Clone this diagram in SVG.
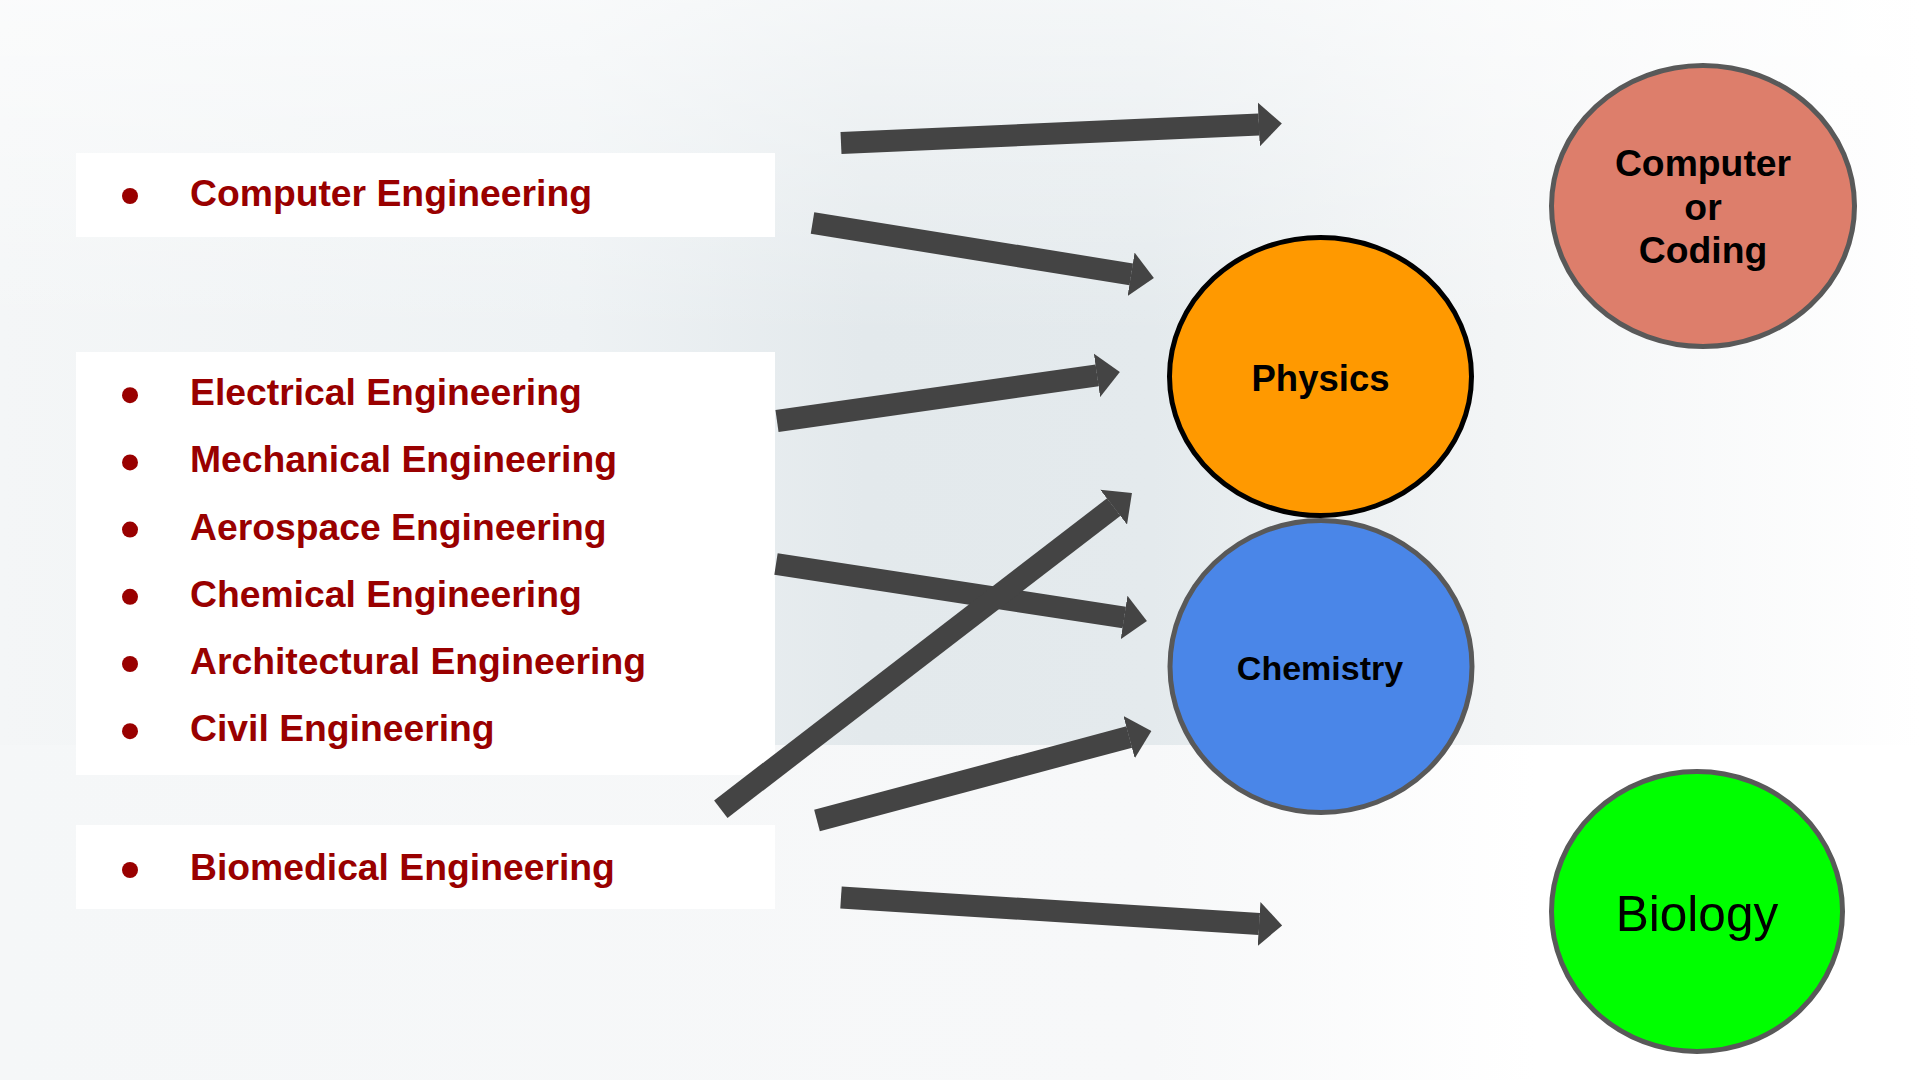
<svg xmlns="http://www.w3.org/2000/svg" width="1920" height="1080" viewBox="0 0 1920 1080">
  <style>
    .box { fill: #ffffff; }
    .item { font-family: "Liberation Sans", Arial, sans-serif; font-weight: bold; font-size: 37.3px; fill: #990000; }
    .bullet { fill: #990000; }
    .lbl { font-family: "Liberation Sans", Arial, sans-serif; font-weight: bold; fill: #000000; text-anchor: middle; }
    .conn { stroke: #444444; stroke-width: 22; stroke-linecap: butt; fill: none; marker-end: url(#head); }
    .node { stroke-width: 5; }
  </style>
  <defs>
    <marker id="head" markerUnits="strokeWidth" viewBox="0 0 1.05 2" markerWidth="1.05" markerHeight="2" refX="0.01" refY="1" orient="auto">
      <path d="M0,0 L1.05,1 L0,2 Z" fill="#444444"/>
    </marker>
    <linearGradient id="bgH" x1="0" y1="0" x2="1" y2="0">
      <stop offset="0" stop-color="#f4f6f7"/>
      <stop offset="0.3" stop-color="#eef2f4"/>
      <stop offset="0.45" stop-color="#e3e9ec"/>
      <stop offset="0.6" stop-color="#e4eaed"/>
      <stop offset="0.78" stop-color="#f3f5f6"/>
      <stop offset="1" stop-color="#ffffff"/>
    </linearGradient>
    <linearGradient id="bgV" x1="0" y1="0" x2="0" y2="1">
      <stop offset="0" stop-color="#ffffff" stop-opacity="0.6"/>
      <stop offset="0.45" stop-color="#ffffff" stop-opacity="0"/>
    </linearGradient>
    <linearGradient id="bgB" x1="0" y1="0" x2="1" y2="0">
      <stop offset="0" stop-color="#f5f7f8"/>
      <stop offset="0.6" stop-color="#f7f8f9"/>
      <stop offset="0.8" stop-color="#ffffff"/>
    </linearGradient>
  </defs>

  <!-- background -->
  <rect x="0" y="0" width="1920" height="1080" fill="#ffffff"/>
  <rect x="0" y="0" width="1920" height="745" fill="url(#bgH)"/>
  <rect x="0" y="0" width="1920" height="745" fill="url(#bgV)"/>
  <rect x="0" y="745" width="1920" height="335" fill="url(#bgB)"/>

  <!-- list boxes -->
  <g id="list-computer">
    <rect class="box" x="76" y="153" width="699" height="84"/>
    <circle class="bullet" cx="130" cy="196" r="8"/>
    <text class="item" x="190" y="206">Computer Engineering</text>
  </g>
  <g id="list-main">
    <rect class="box" x="76" y="352" width="699" height="423"/>
    <circle class="bullet" cx="130" cy="395.2" r="8"/>
    <text class="item" x="190" y="405.2">Electrical Engineering</text>
    <circle class="bullet" cx="130" cy="462.4" r="8"/>
    <text class="item" x="190" y="472.4">Mechanical Engineering</text>
    <circle class="bullet" cx="130" cy="529.6" r="8"/>
    <text class="item" x="190" y="539.6">Aerospace Engineering</text>
    <circle class="bullet" cx="130" cy="596.8" r="8"/>
    <text class="item" x="190" y="606.8">Chemical Engineering</text>
    <circle class="bullet" cx="130" cy="664" r="8"/>
    <text class="item" x="190" y="674">Architectural Engineering</text>
    <circle class="bullet" cx="130" cy="731.2" r="8"/>
    <text class="item" x="190" y="741.2">Civil Engineering</text>
  </g>
  <g id="list-biomedical">
    <rect class="box" x="76" y="825" width="699" height="84"/>
    <circle class="bullet" cx="130" cy="870" r="8"/>
    <text class="item" x="190" y="880">Biomedical Engineering</text>
  </g>

  <!-- connectors -->
  <g id="connectors">
    <line class="conn" x1="841" y1="143" x2="1259" y2="124.5"/>
    <line class="conn" x1="812.5" y1="223" x2="1131.3" y2="274.3"/>
    <line class="conn" x1="777" y1="421" x2="1097.2" y2="375.3"/>
    <line class="conn" x1="776" y1="564" x2="1124.3" y2="617.5"/>
    <line class="conn" x1="720.8" y1="809.2" x2="1113.8" y2="507"/>
    <line class="conn" x1="817" y1="820.5" x2="1129.3" y2="737"/>
    <line class="conn" x1="841" y1="897.5" x2="1259.3" y2="924"/>
  </g>

  <!-- nodes -->
  <g id="node-physics">
    <ellipse class="node" cx="1320.5" cy="376.5" rx="151" ry="139" fill="#ff9900" stroke="#000000"/>
    <text class="lbl" x="1320.5" y="391" font-size="36.5">Physics</text>
  </g>
  <g id="node-chemistry">
    <ellipse class="node" cx="1321" cy="666.5" rx="151" ry="146" fill="#4a86e8" stroke="#595959"/>
    <text class="lbl" x="1320" y="679.5" font-size="34">Chemistry</text>
  </g>
  <g id="node-computer">
    <ellipse class="node" cx="1703" cy="206" rx="151.5" ry="140.5" fill="#dd7e6b" stroke="#595959"/>
    <text class="lbl" x="1703" y="176" font-size="37.3">Computer</text>
    <text class="lbl" x="1703" y="219.5" font-size="37.3">or</text>
    <text class="lbl" x="1703" y="263" font-size="37.3">Coding</text>
  </g>
  <g id="node-biology">
    <ellipse class="node" cx="1697" cy="911.5" rx="145.5" ry="140" fill="#00ff00" stroke="#595959"/>
    <text x="1697" y="931" font-family="'Liberation Sans', Arial, sans-serif" font-size="49.5" fill="#000000" text-anchor="middle">Biology</text>
  </g>
</svg>
